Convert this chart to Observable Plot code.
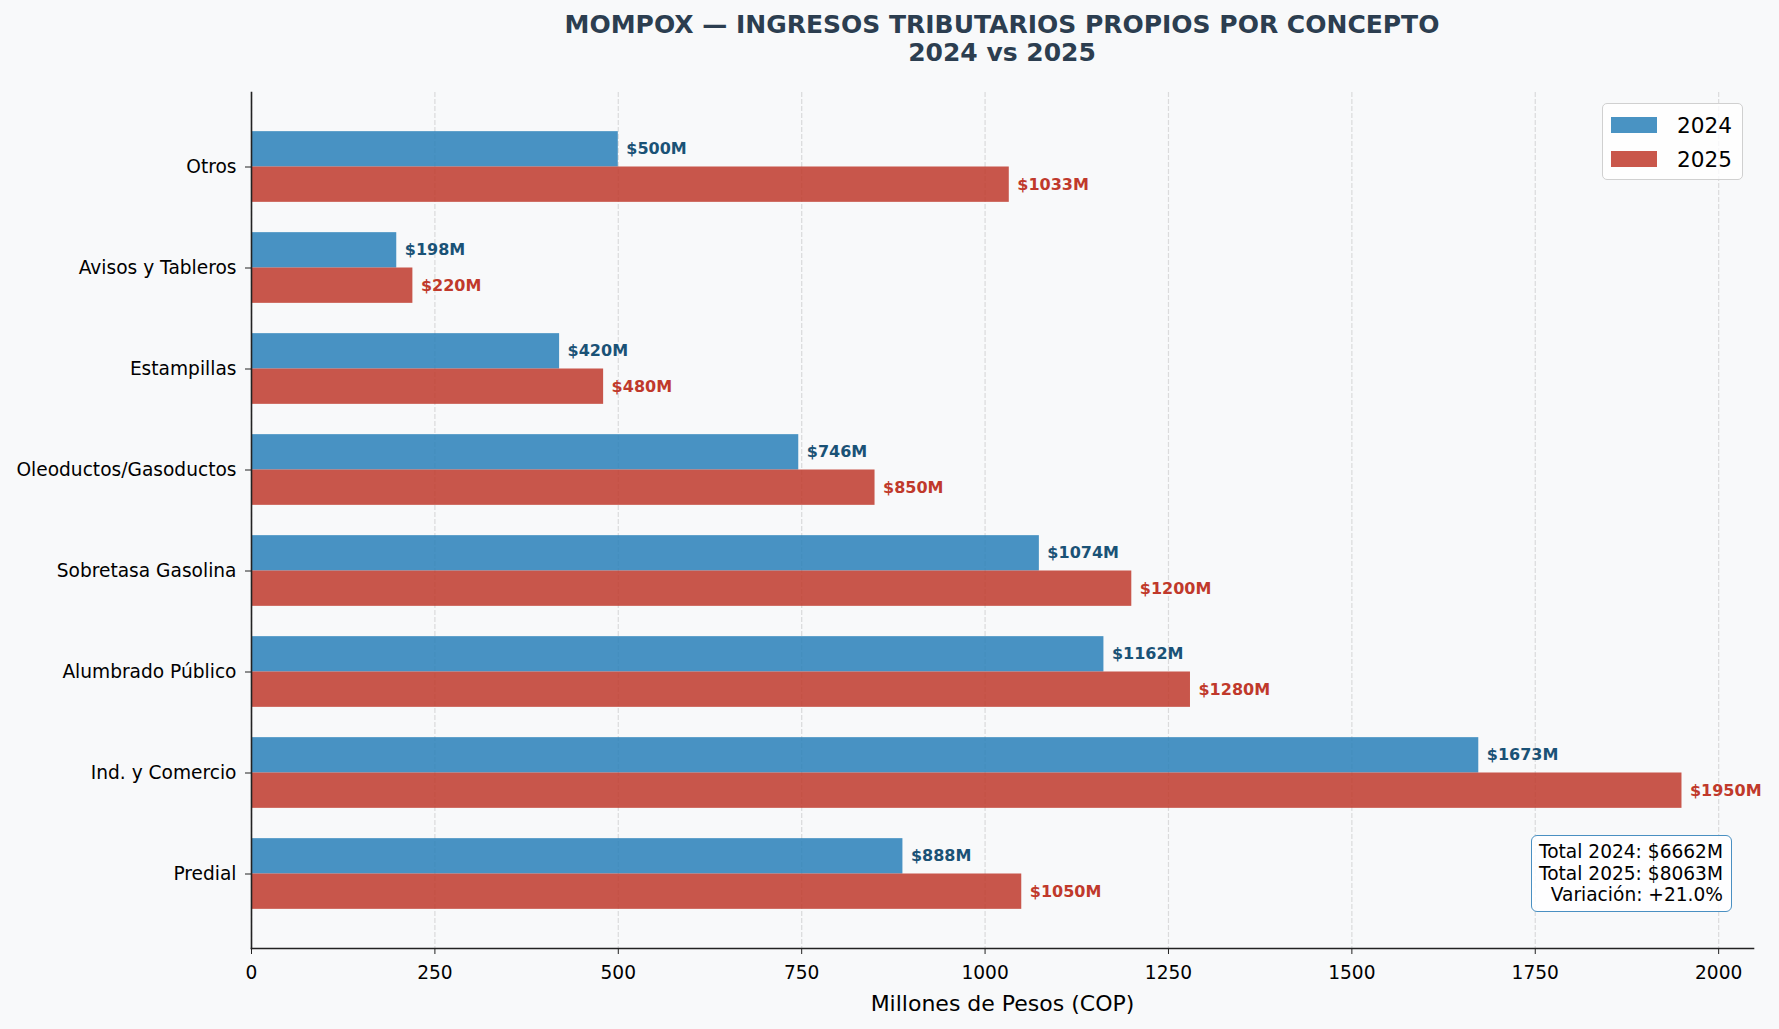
<!DOCTYPE html>
<html>
<head>
<meta charset="utf-8">
<script src="https://cdn.jsdelivr.net/npm/d3@7"></script>
<script src="https://cdn.jsdelivr.net/npm/@observablehq/plot@0.6"></script>
<style>
  body { margin: 0; background: #f8f9fa; font-family: "DejaVu Sans", sans-serif; }
  #page { position: relative; width: 1779px; height: 1029px; overflow: hidden; }
  #title {
    box-sizing: border-box; height: 80px; padding: 11px 26px 0 251px;
    text-align: center; font-weight: bold; font-size: 25px; line-height: 28px; color: #2c3e50;
  }
  #chart svg { display: block; }
  #legend {
    position: absolute; left: 1602px; top: 103px; width: 141px; height: 77px; box-sizing: border-box;
    background: rgba(255,255,255,0.8); border: 1px solid #d0d0d0; border-radius: 5px;
  }
  #legend .row { position: absolute; left: 8px; height: 24px; display: flex; align-items: center; font-size: 21.6px; color: #000; }
  #legend .sw { width: 46px; height: 16px; margin-right: 20px; }
  #note {
    position: absolute; left: 1531px; top: 835px; width: 201px; height: 77px; box-sizing: border-box;
    background: rgba(255,255,255,0.85); border: 1.8px solid #4a90c2; border-radius: 6px;
    padding: 5px 8px 0 0; text-align: right; font-size: 18.6px; line-height: 21.6px; color: #000;
  }
</style>
</head>
<body>
<div id="page">
  <div id="title"></div>
  <div id="chart"></div>
  <div id="legend"></div>
  <div id="note"></div>
</div>
<script>
// Own-source tax revenue by concept, millions of COP
const categories = ["Predial", "Ind. y Comercio", "Alumbrado Público", "Sobretasa Gasolina",
  "Oleoductos/Gasoductos", "Estampillas", "Avisos y Tableros", "Otros"];
const values2024 = [888, 1673, 1162, 1074, 746, 420, 198, 500];
const values2025 = [1050, 1950, 1280, 1200, 850, 480, 220, 1033];
const years = ["2024", "2025"];
const xTicks = [0, 250, 500, 750, 1000, 1250, 1500, 1750, 2000];
const total2024 = 6662;
const total2025 = 8063;

const titleLines = ["MOMPOX — INGRESOS TRIBUTARIOS PROPIOS POR CONCEPTO", "2024 vs 2025"];
const barColors = ["#2980b9", "#c0392b"];
const labelColors = ["#1a5276", "#c0392b"];

document.getElementById("title").innerHTML = titleLines.join("<br>");

const rows2024 = categories.map((c, i) => ({category: c, value: values2024[i]}));
const rows2025 = categories.map((c, i) => ({category: c, value: values2025[i]}));

const W = 1779, H = 949;
const mTop = 12, mBottom = 81, mLeft = 251, mRight = 26;
const padOuter = 0.2375;
const step = (H - mTop - mBottom) / (categories.length + 2 * padOuter);
const xMax = Math.max(...values2024, ...values2025) * 1.05;

const font = "DejaVu Sans";

const chart = Plot.plot({
  width: W, height: H,
  marginTop: mTop, marginBottom: mBottom, marginLeft: mLeft, marginRight: mRight,
  style: {background: "transparent", fontFamily: font, color: "#000"},
  x: {domain: [0, xMax]},
  y: {domain: categories.slice().reverse(), paddingInner: 0, paddingOuter: padOuter, align: 0.5},
  marks: [
    Plot.gridX(xTicks, {stroke: "#b0b0b0", strokeOpacity: 0.4, strokeDasharray: "5,2", strokeWidth: 1.2}),
    Plot.barX(rows2024, {y: "category", x: "value", fill: barColors[0], fillOpacity: 0.85,
      insetTop: 0.15 * step, insetBottom: 0.5 * step}),
    Plot.barX(rows2025, {y: "category", x: "value", fill: barColors[1], fillOpacity: 0.85,
      insetTop: 0.5 * step, insetBottom: 0.15 * step}),
    Plot.text(rows2024, {y: "category", x: "value", text: d => `$${d.value}M`, dx: 8, dy: -0.175 * step,
      textAnchor: "start", fill: labelColors[0], fontWeight: "bold", fontSize: 16}),
    Plot.text(rows2025, {y: "category", x: "value", text: d => `$${d.value}M`, dx: 8, dy: 0.175 * step,
      textAnchor: "start", fill: labelColors[1], fontWeight: "bold", fontSize: 16}),
    Plot.axisX({ticks: xTicks, tickFormat: d => String(d), tickSize: 6, tickPadding: 11, fontSize: 18.6,
      stroke: "#222", label: "Millones de Pesos (COP)", labelAnchor: "center", labelArrow: "none", labelOffset: 62}),
    Plot.axisY({tickSize: 6, tickPadding: 9, fontSize: 18.6, stroke: "#222", label: null}),
    Plot.frame({anchor: "left", stroke: "#222", strokeWidth: 1.6}),
    Plot.frame({anchor: "bottom", stroke: "#222", strokeWidth: 1.6})
  ]
});
// axis label font size
chart.querySelectorAll("g[aria-label='x-axis label'] text").forEach(t => t.setAttribute("font-size", "22px"));
document.getElementById("chart").appendChild(chart);

// legend
const legend = document.getElementById("legend");
years.forEach((y, i) => {
  const row = document.createElement("div");
  row.className = "row";
  row.style.top = (9 + i * 34) + "px";
  const sw = document.createElement("div");
  sw.className = "sw";
  sw.style.background = barColors[i];
  sw.style.opacity = 0.85;
  row.appendChild(sw);
  row.appendChild(document.createTextNode(y));
  legend.appendChild(row);
});

// totals box
const variation = (total2025 / total2024 - 1) * 100;
document.getElementById("note").innerHTML =
  `Total 2024: $${total2024}M<br>Total 2025: $${total2025}M<br>Variación: +${variation.toFixed(1)}%`;
</script>
</body>
</html>
